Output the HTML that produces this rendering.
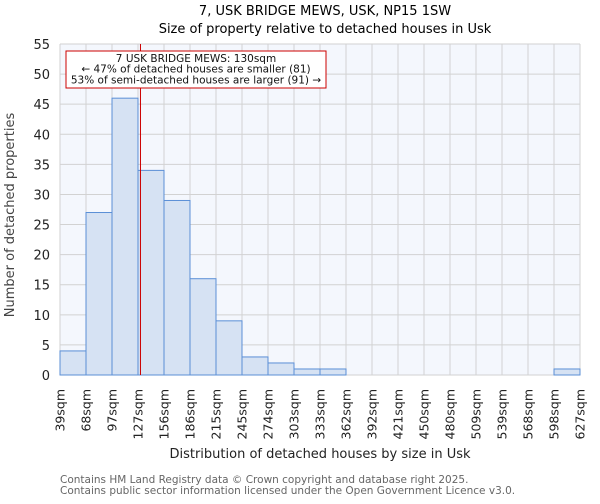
<!DOCTYPE html>
<html><head><meta charset="utf-8"><style>
body{margin:0;background:#fff;font-family:"DejaVu Sans","Liberation Sans",sans-serif}
svg text{font-family:"DejaVu Sans","Liberation Sans",sans-serif}
</style></head><body>
<svg id="chart" width="600" height="500">
<text x="325" y="15" font-size="13" text-anchor="middle">7, USK BRIDGE MEWS, USK, NP15 1SW</text>
<text x="325" y="33" font-size="13" text-anchor="middle">Size of property relative to detached houses in Usk</text>
<rect x="60" y="44" width="520" height="331" fill="#f4f7fd"/>
<g id="grid"></g><g id="bars"></g><g id="ticks"></g>
<text x="320" y="458" font-size="13" text-anchor="middle" fill="#222">Distribution of detached houses by size in Usk</text>
<text transform="translate(14,215) rotate(-90)" font-size="13" text-anchor="middle" fill="#444">Number of detached properties</text>
<g id="marker"></g>
<text x="60" y="483" font-size="10.5" fill="#666">Contains HM Land Registry data © Crown copyright and database right 2025.</text>
<text x="60" y="494" font-size="10.5" fill="#666">Contains public sector information licensed under the Open Government Licence v3.0.</text>
</svg>
<script>
const binLabels=["39sqm","68sqm","97sqm","127sqm","156sqm","186sqm","215sqm","245sqm","274sqm","303sqm","333sqm","362sqm","392sqm","421sqm","450sqm","480sqm","509sqm","539sqm","568sqm","598sqm","627sqm"];
const counts=[4,27,46,34,29,16,9,3,2,1,1,0,0,0,0,0,0,0,0,1];
const yTicks=[0,5,10,15,20,25,30,35,40,45,50,55];
const propertySize=130;
const binStart=39, binWidth=29.4;
const NS="http://www.w3.org/2000/svg";
const X0=60,X1=580,Y0=375,Y1=44,YMAX=55;
const xi=i=>X0+i*(X1-X0)/counts.length;
const xv=v=>X0+(v-binStart)/binWidth*(X1-X0)/counts.length;
const y=v=>Y0-v*(Y0-Y1)/YMAX;
function mk(t,a,p){const e=document.createElementNS(NS,t);for(const k in a)e.setAttribute(k,a[k]);p.appendChild(e);return e;}
const grid=document.getElementById('grid'),bars=document.getElementById('bars'),ticks=document.getElementById('ticks');
yTicks.forEach(v=>{
 const l=mk('line',{x1:X0,x2:X1,y1:y(v),y2:y(v),stroke:'#d2d2d2'},grid);
 
 
 const t=mk('text',{x:50,y:y(v)+5,'font-size':13,'text-anchor':'end',fill:'#222'},ticks);
 t.textContent=v;
 
 
});
binLabels.forEach((s,i)=>{
 const l=mk('line',{x1:xi(i),x2:xi(i),y1:Y1,y2:Y0,stroke:'#d2d2d2'},grid);
 
 
 const t=mk('text',{transform:`translate(${xi(i)+4.5},389) rotate(-90)`,'font-size':12.5,'text-anchor':'end',fill:'#222'},ticks);
 t.textContent=s;
 
 
});
counts.forEach((c,i)=>{
 if(c<=0)return;
 const r=mk('rect',{x:xi(i),y:y(c),width:xi(i+1)-xi(i),height:Y0-y(c),fill:'#d6e2f3',stroke:'#5b8fd6','stroke-width':1},bars);
 
 
});
const m=document.getElementById('marker');
const ml=mk('line',{x1:xv(propertySize),x2:xv(propertySize),y1:Y1,y2:Y0,stroke:'#cc0000','stroke-width':1},m);


const box=mk('rect',{x:66,y:51,width:260,height:37,fill:'#fff',stroke:'#cc0000'},m);


["7 USK BRIDGE MEWS: 130sqm","← 47% of detached houses are smaller (81)","53% of semi-detached houses are larger (91) →"].forEach((s,k)=>{
 const t=mk('text',{x:196,y:62+k*10.7,'font-size':10.5,'text-anchor':'middle',fill:'#111'},m);
 t.textContent=s;
 
 
});
</script>
</body></html>
